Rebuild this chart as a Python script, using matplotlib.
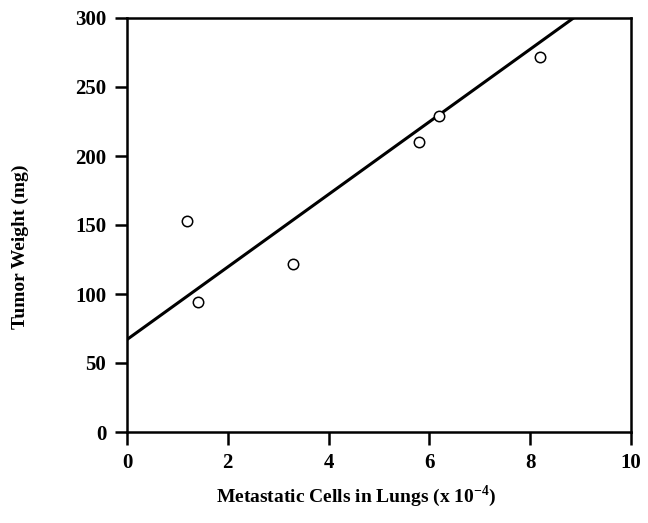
import matplotlib
matplotlib.use("Agg")
from matplotlib import pyplot as plt

# metastatic cells (x 10^-4) vs tumor weight (mg)
cells = [1.2, 1.4, 3.3, 5.8, 6.2, 8.2]
weight = [153, 94, 122, 210, 229, 272]

# fitted line
fit_intercept = 67
fit_slope = 26.3

x_ticks = [0, 2, 4, 6, 8, 10]
y_ticks = [0, 50, 100, 150, 200, 250, 300]

plt.rcParams['font.family'] = ['Liberation Serif', 'DejaVu Serif']
plt.rcParams['font.weight'] = 'bold'

fig = plt.figure(figsize=(6.48, 5.23), dpi=100)
ax = fig.add_axes([127 / 648, 1 - 432 / 523, 504 / 648, 414 / 523])

xs = [0, 10]
ax.plot(xs, [fit_intercept + fit_slope * x for x in xs], color='black', lw=2.2,
        solid_capstyle='butt')
ax.plot(cells, weight, 'o', mfc='white', mec='black', ms=7.5, mew=1.1)

ax.set_xlim(0, 10)
ax.set_ylim(0, 300)
ax.set_xticks(x_ticks)
ax.set_yticks(y_ticks)
ax.set_xticklabels([str(t) for t in x_ticks])
ax.set_yticklabels([str(t) for t in y_ticks])
ax.tick_params(direction='out', length=9, width=1.8, labelsize=15, pad=6)
for s in ax.spines.values():
    s.set_linewidth(1.8)

ax.set_xlabel('Metastatic Cells in Lungs (x 10$^{\\mathregular{-4}}$)', fontsize=14,
              fontweight='bold')
ax.set_ylabel('Tumor Weight (mg)', fontsize=14, fontweight='bold')
ax.xaxis.set_label_coords(0.455, -0.125)
ax.yaxis.set_label_coords(-0.194, 0.447)

fig.savefig('out.png', dpi=100)
